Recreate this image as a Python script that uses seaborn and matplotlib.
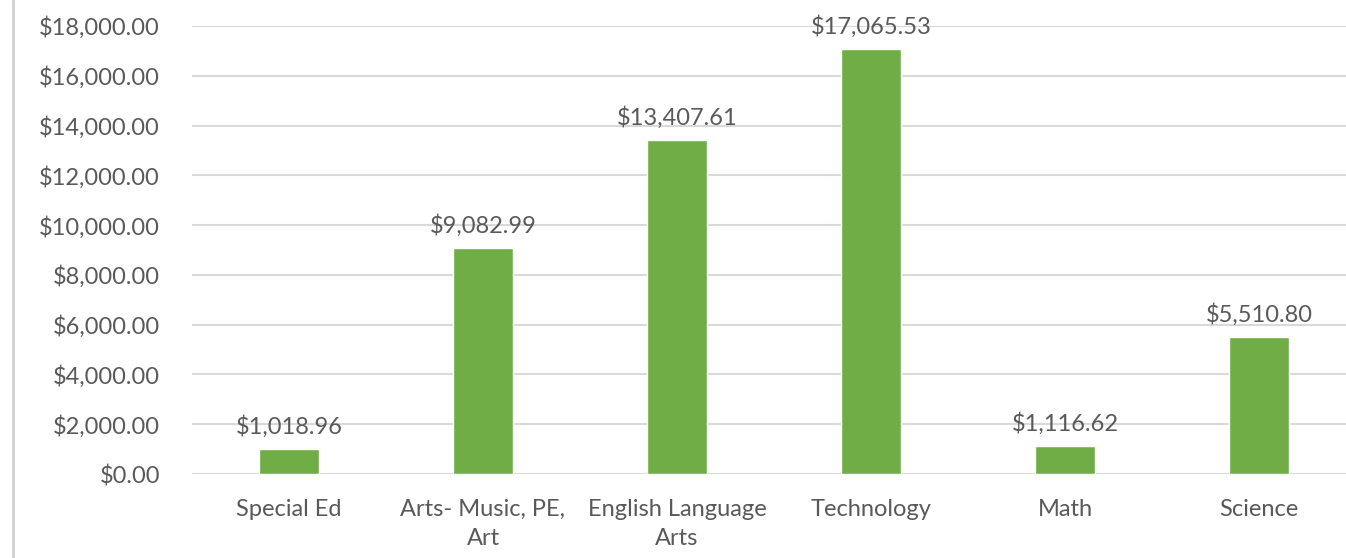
import matplotlib
matplotlib.use("Agg")
import matplotlib.pyplot as plt
from matplotlib.lines import Line2D
import pandas as pd
import seaborn as sns

categories = ["Special Ed", "Arts- Music, PE,\nArt", "English Language\nArts",
              "Technology", "Math", "Science"]
amounts = [1018.96, 9082.99, 13407.61, 17065.53, 1116.62, 5510.80]
y_ticks = [0, 2000, 4000, 6000, 8000, 10000, 12000, 14000, 16000, 18000]

df = pd.DataFrame({"Category": categories, "Amount": amounts})

sns.set_style("white")
plt.rcParams["font.family"] = ["Lato", "DejaVu Sans"]
text_col = "#595959"

fig = plt.figure(figsize=(13.46, 5.58), dpi=100)
ax = fig.add_axes([192 / 1346, (558 - 474) / 558, (1346 - 192) / 1346, (474 - 26) / 558])

sns.barplot(data=df, x="Category", y="Amount", color="#70AD47", saturation=1,
            width=0.31, ax=ax, zorder=3)

ax.set_ylim(0, 18000)
ax.set_xlim(-0.5, -0.5 + (1346 - 192) / 194)
ax.set_yticks(y_ticks)
ax.set_yticklabels(["${:,.2f}".format(v) for v in y_ticks])
ax.yaxis.grid(True, color="#D9D9D9", linewidth=1.5, zorder=0)
ax.set_axisbelow(True)
for s in ax.spines.values():
    s.set_visible(False)
ax.set_xlabel("")
ax.set_ylabel("")
ax.tick_params(axis="y", length=0, pad=23, labelsize=17, labelcolor=text_col)
ax.tick_params(axis="x", length=0, pad=18, labelsize=17, labelcolor=text_col)
for lbl in ax.get_xticklabels():
    lbl.set_linespacing(1.45)

for i, v in enumerate(amounts):
    ax.text(i, v + 450, "${:,.2f}".format(v), ha="center", va="bottom",
            fontsize=17, color=text_col, clip_on=False)

fig.add_artist(Line2D([13 / 1346, 13 / 1346], [0, 1], color="#D0D0D0", linewidth=2))

fig.savefig("out.png", dpi=100, facecolor="white")
